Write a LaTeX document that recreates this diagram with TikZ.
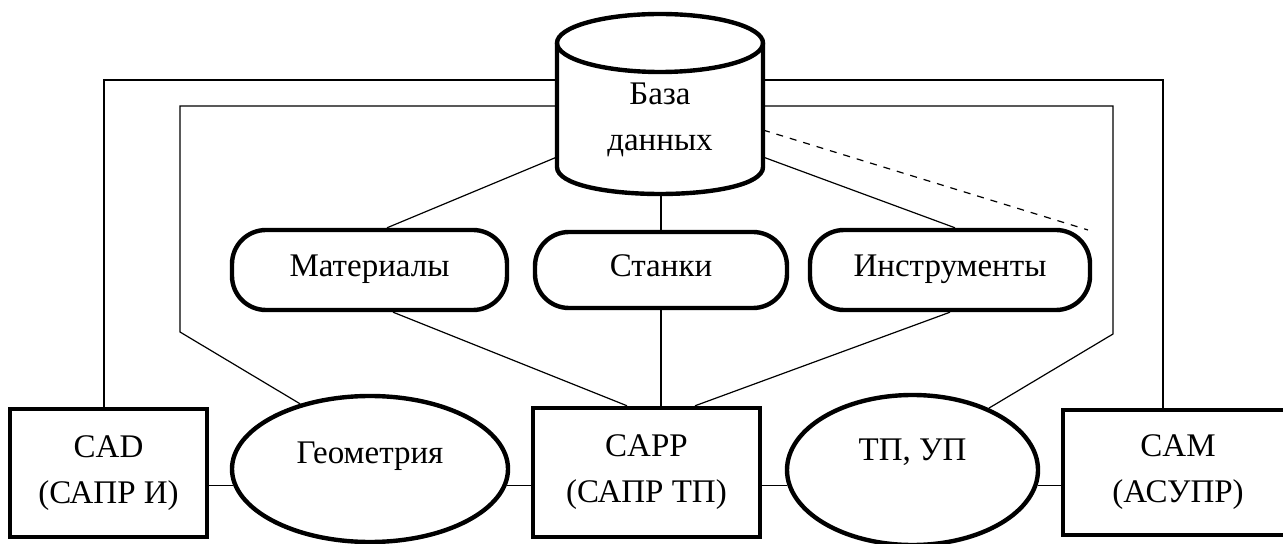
\documentclass[tikz,border=0pt]{standalone}
\usepackage{fontspec}
\setmainfont{Liberation Serif}
\usetikzlibrary{shapes.geometric}
\begin{document}
\begin{tikzpicture}[x=0.5pt,y=-0.5pt,
  every node/.style={font=\fontsize{16.5}{23}\selectfont, align=center, inner sep=0pt},
  outline/.style={line width=2.2pt},
  link/.style={line width=0.6pt},
  block/.style={draw, outline, rectangle},
  oval/.style={draw, outline, ellipse},
  pill/.style={draw, outline, rectangle, rounded corners=17pt, text height=11pt, text depth=4pt},
]
\useasboundingbox (0,0) rectangle (1283,544);
\clip (0,0) rectangle (1283,544);

% database cylinder
\draw[outline] (660,43) ellipse [x radius=51.5pt, y radius=14.5pt];
\draw[outline] (557,43) -- (557,167) .. controls (557,203) and (763,203) .. (763,167) -- (763,43);
\node[minimum width=103pt, minimum height=60pt, outer sep=0pt] (db) at (660,120) {База\\данных};

% reference tables
\node[pill, minimum width=137.5pt, minimum height=40pt] (mat) at (369.5,270) {Материалы};
\node[pill, minimum width=126pt, minimum height=38pt] (stk) at (661,270) {Станки};
\node[pill, minimum width=140pt, minimum height=40pt] (ins) at (950,270) {Инструменты};

% systems and data
\node[block, minimum width=98.5pt, minimum height=64pt] (cad) at (108.5,473) {CAD\\(САПР И)};
\node[block, minimum width=113.5pt, minimum height=64.5pt] (capp) at (646.5,472.5) {CAPP\\(САПР ТП)};
\node[block, minimum width=115pt, minimum height=62.5pt] (cam) at (1178,472.5) {CAM\\(АСУПР)};
\node[oval, minimum width=138pt, minimum height=73pt, text height=10pt, text depth=16pt] (geo) at (370,469) {Геометрия};
\node[oval, minimum width=125.5pt, minimum height=75pt, text height=10pt, text depth=20pt] (tp) at (912.5,470) {ТП, УП};

% bend points
\coordinate (o1) at (104,80);
\coordinate (o2) at (1163,80);
\coordinate (i1) at (180,106);
\coordinate (i1b) at (180,332);
\coordinate (i2) at (1113,106);
\coordinate (i2b) at (1113,334);
\coordinate (dm) at (557,157);
\coordinate (mt) at (387,230);
\coordinate (di) at (763,157);
\coordinate (it) at (955,230);
\coordinate (dbb) at (660,194);
\coordinate (mb) at (393,310);
\coordinate (ct1) at (627,408);
\coordinate (ib) at (950,310);
\coordinate (ct3) at (695,408);
\coordinate (ds) at (763,130);
\coordinate (de) at (1088,230);

% connectors
\draw[link] (db.west |- o1) -- (o1) -- (o1 |- cad.north);
\draw[link] (db.east |- o2) -- (o2) -- (o2 |- cam.north);
\draw[link] (db.west |- i1) -- (i1) -- (i1b) -- (geo.137);
\draw[link] (db.east |- i2) -- (i2) -- (i2b) -- (tp.39);
\draw[link] (db.west |- dm) -- (mt |- mat.north);
\draw[link] (db.east |- di) -- (it |- ins.north);
\draw[link] (stk.north |- dbb) -- (stk.north);
\draw[link] (mb |- mat.south) -- (ct1 |- capp.north);
\draw[link] (stk.south) -- (stk.south |- capp.north);
\draw[link] (ib |- ins.south) -- (ct3 |- capp.north);
\draw[link, dash pattern=on 3.5pt off 3.5pt] (db.east |- ds) -- (de);
\draw[link] (cad.east |- geo.187) -- (geo.187);
\draw[link] (geo.-7) -- (geo.-7 -| capp.west);
\draw[link] (capp.east |- tp.187) -- (tp.187);
\draw[link] (tp.-7) -- (tp.-7 -| cam.west);
\end{tikzpicture}
\end{document}
